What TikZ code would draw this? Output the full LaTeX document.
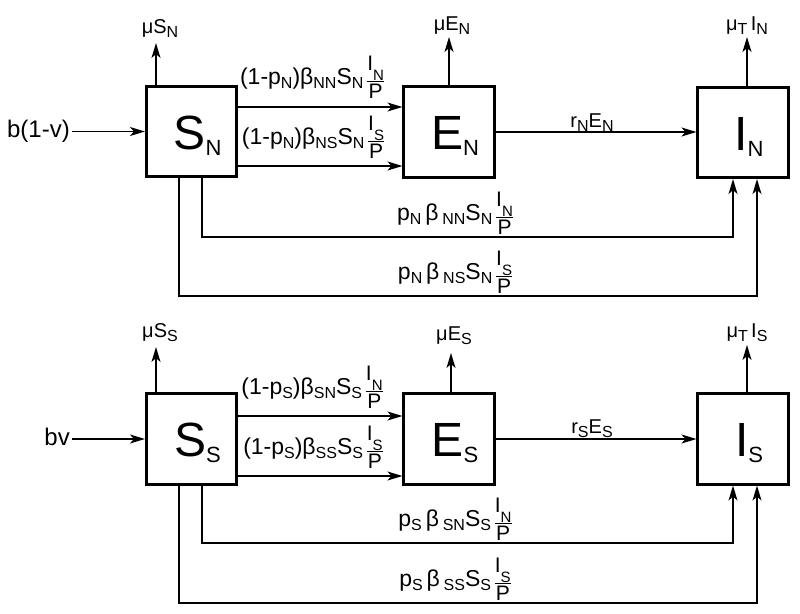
\documentclass[tikz,border=0pt]{standalone}
\usepackage{fontspec}
\setmainfont{Liberation Sans}
\usetikzlibrary{arrows.meta}

\newcommand{\sbs}[1]{\raisebox{-4.5pt}{\fontsize{16}{16}\selectfont #1}}
\newcommand{\fsb}[1]{\raisebox{-10pt}{\fontsize{15}{15}\selectfont #1}}
\newcommand{\bsb}[1]{\raisebox{-6pt}{\fontsize{22}{22}\selectfont #1}}
\newcommand{\bxt}[2]{\hspace*{12pt}\rule{0pt}{41pt}#1\bsb{#2}}
\newcommand{\ffnt}{\fontsize{21}{21}\selectfont}
\newcommand{\frc}[2]{%
  \begingroup
  \setbox0=\hbox{\ffnt #1}\setbox2=\hbox{\ffnt #2}%
  \dimen0=\wd0 \ifdim\wd2>\dimen0 \dimen0=\wd2 \fi
  \raisebox{-14pt}{\vbox{\hbox to\dimen0{\hss\box0\hss}\kern0.8pt
     \hrule height 1.3pt\kern1.3pt\hbox to\dimen0{\hss\box2\hss}}}%
  \endgroup}

\tikzset{
  box/.style={draw, line width=2.6pt, minimum size=90.5pt, inner sep=0pt,
              font=\fontsize{48}{48}\selectfont},
  flow/.style={line width=1.3pt, -{Stealth[length=15pt,width=9pt,inset=4pt]}},
  lbl/.style={font=\fontsize{23}{26}\selectfont, inner sep=0pt, anchor=base},
  mlbl/.style={font=\fontsize{20}{23}\selectfont, inner sep=0pt, anchor=base},
}

\begin{document}
\begin{tikzpicture}[x=1pt,y=-1pt]
\useasboundingbox (0,0) rectangle (800,613);

% ---------- top row ----------
\node[box] (SN) at (191.5,131.5) {\bxt{S}{N}};
\node[box] (EN) at (449,132) {\bxt{E}{N}};
\node[box] (IN) at (743,132.5) {\bxt{I}{N}};

\node[lbl, font=\fontsize{24}{26}\selectfont, anchor=base east] (bN) at (70,137) {b(1-v)};
\draw[flow] ([xshift=2pt]bN.east |- SN.west) -- (SN.west);

\coordinate (mSN) at (156,43);
\coordinate (mEN) at (449,37);
\coordinate (mIN) at (747,37);
\draw[flow] (SN.north -| mSN) -- (mSN);
\draw[flow] (EN.north -| mEN) -- (mEN);
\draw[flow] (IN.north -| mIN) -- (mIN);
\node[mlbl] (tSN) at (160,33) {μS\sbs{N}};
\node[mlbl] (tEN) at (452,30) {μE\sbs{N}};
\node[mlbl] (tIN) at (747,30) {μ\sbs{T}\,I\sbs{N}};

\coordinate (u1) at ([yshift=24.5pt]SN.east);
\coordinate (u2) at ([yshift=-34.5pt]SN.east);
\draw[flow] (u1) -- (u1 -| EN.west);
\draw[flow] (u2) -- (u2 -| EN.west);
\node[lbl] (l1) at (312,84) {(1-p\sbs{N})β\sbs{NN}S\sbs{N}\,\frc{I\fsb{N}}{P}};
\node[lbl] (l2) at (313,144) {(1-p\sbs{N})β\sbs{NS}S\sbs{N}\,\frc{I\fsb{S}}{P}};

\draw[flow] (EN.east) -- (EN.east -| IN.west);
\node[mlbl] (rN) at (592,127) {r\sbs{N}E\sbs{N}};

\coordinate (fa) at ([xshift=10.5pt]SN.south);
\coordinate (fb) at ([xshift=-12.5pt]SN.south);
\coordinate (fa2) at (733,237);
\coordinate (fb2) at (757,296);
\draw[flow] (fa) |- (fa2) -- (fa2 |- IN.south);
\draw[flow] (fb) |- (fb2) -- (fb2 |- IN.south);
\node[lbl] (l3) at (455,220) {p\sbs{N}\,β\,\sbs{NN}S\sbs{N}\,\frc{I\fsb{N}}{P}};
\node[lbl] (l4) at (455,279) {p\sbs{N}\,β\,\sbs{NS}S\sbs{N}\,\frc{I\fsb{S}}{P}};

% ---------- bottom row ----------
\node[box] (SS) at (191.5,439) {\bxt{S}{S}};
\node[box] (ES) at (449,439) {\bxt{E}{S}};
\node[box] (IS) at (743,439) {\bxt{I}{S}};

\node[lbl, font=\fontsize{24}{26}\selectfont, anchor=base east] (bS) at (70,445) {bv};
\draw[flow] ([xshift=2pt]bS.east |- SS.west) -- (SS.west);

\coordinate (mSS) at (156,347);
\coordinate (mES) at (451,353);
\coordinate (mIS) at (747,345);
\draw[flow] (SS.north -| mSS) -- (mSS);
\draw[flow] (ES.north -| mES) -- (mES);
\draw[flow] (IS.north -| mIS) -- (mIS);
\node[mlbl] (tSS) at (160,337) {μS\sbs{S}};
\node[mlbl] (tES) at (454,340) {μE\sbs{S}};
\node[mlbl] (tIS) at (747,337) {μ\sbs{T}\,I\sbs{S}};

\coordinate (v1) at ([yshift=23pt]SS.east);
\coordinate (v2) at ([yshift=-37pt]SS.east);
\draw[flow] (v1) -- (v1 -| ES.west);
\draw[flow] (v2) -- (v2 -| ES.west);
\node[lbl] (l5) at (312,394) {(1-p\sbs{S})β\sbs{SN}S\sbs{S}\,\frc{I\fsb{N}}{P}};
\node[lbl] (l6) at (313,454) {(1-p\sbs{S})β\sbs{SS}S\sbs{S}\,\frc{I\fsb{S}}{P}};

\draw[flow] (ES.east) -- (ES.east -| IS.west);
\node[mlbl] (rS) at (592,433) {r\sbs{S}E\sbs{S}};

\coordinate (ga) at ([xshift=10.5pt]SS.south);
\coordinate (gb) at ([xshift=-12.5pt]SS.south);
\coordinate (ga2) at (733,543);
\coordinate (gb2) at (757,603);
\draw[flow] (ga) |- (ga2) -- (ga2 |- IS.south);
\draw[flow] (gb) |- (gb2) -- (gb2 |- IS.south);
\node[lbl] (l7) at (455,526) {p\sbs{S}\,β\,\sbs{SN}S\sbs{S}\,\frc{I\fsb{N}}{P}};
\node[lbl] (l8) at (455,586) {p\sbs{S}\,β\,\sbs{SS}S\sbs{S}\,\frc{I\fsb{S}}{P}};
\end{tikzpicture}
\end{document}
